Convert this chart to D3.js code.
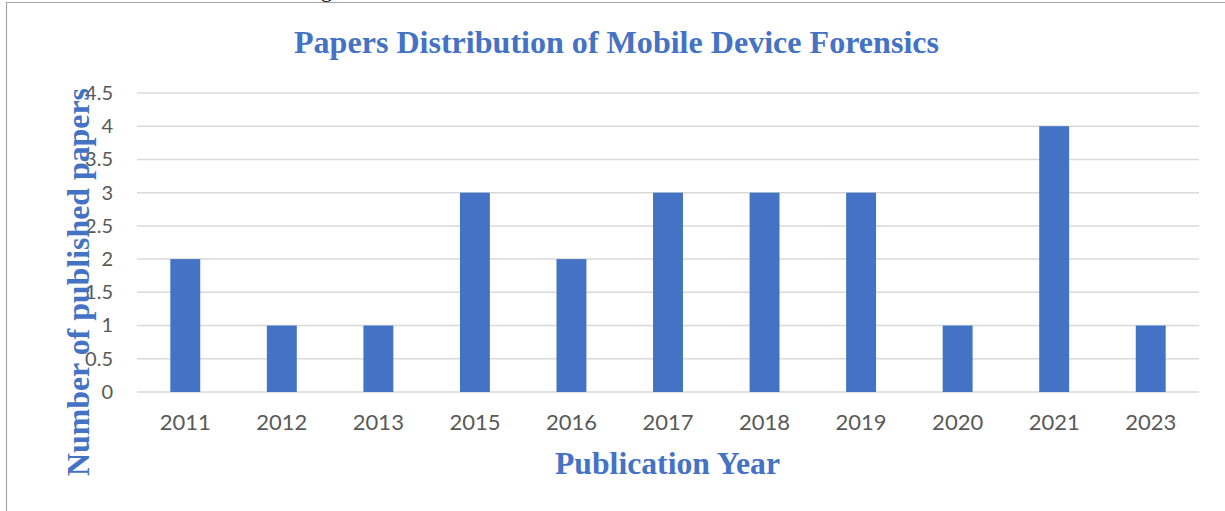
<!DOCTYPE html>
<html>
<head>
<meta charset="utf-8">
<script src="https://cdn.jsdelivr.net/npm/d3@7"></script>
<style>
  body { margin: 0; background: #fff; }
  svg { display: block; }
</style>
</head>
<body>
<div id="chart"><svg></svg></div>
<script>
const YEARS = ['2011', '2012', '2013', '2015', '2016', '2017', '2018', '2019', '2020', '2021', '2023'];
const PAPERS = [2, 1, 1, 3, 2, 3, 3, 3, 1, 4, 1];
const Y_TICKS = [0, 0.5, 1, 1.5, 2, 2.5, 3, 3.5, 4, 4.5];

const WIDTH = 1225;
const HEIGHT = 511;
const PLOT = { left: 137, right: 1199, top: 93, bottom: 392 };
const BLUE = '#4472C4';

const svg = d3.select('#chart').select('svg')
  .attr('width', WIDTH)
  .attr('height', HEIGHT);

// frame of the chart area (cut off page)
svg.append('line').attr('x1', 6).attr('x2', WIDTH).attr('y1', 2.5).attr('y2', 2.5)
  .attr('stroke', '#a6a6a6').attr('stroke-width', 1.2);
svg.append('line').attr('x1', 6.5).attr('x2', 6.5).attr('y1', 2).attr('y2', HEIGHT)
  .attr('stroke', '#a6a6a6').attr('stroke-width', 1.2);

// fragment of the page text above the chart
svg.append('text').attr('x', 321).attr('y', -3)
  .attr('font-family', 'Liberation Serif').attr('font-size', 22).attr('fill', '#000')
  .text('g');

const xScale = d3.scaleBand()
  .domain(YEARS)
  .range([PLOT.left, PLOT.right])
  .paddingInner(0.69)
  .paddingOuter(0.345);

const yScale = d3.scaleLinear()
  .domain([0, 4.5])
  .range([PLOT.bottom, PLOT.top]);

// gridlines
svg.append('g')
  .selectAll('line')
  .data(Y_TICKS)
  .enter()
  .append('line')
  .attr('x1', PLOT.left)
  .attr('x2', PLOT.right)
  .attr('y1', d => yScale(d))
  .attr('y2', d => yScale(d))
  .attr('stroke', '#d9d9d9')
  .attr('stroke-width', 1.5);

// y tick labels
const yAxis = svg.append('g')
  .attr('transform', `translate(${PLOT.left}, 0)`)
  .call(d3.axisLeft(yScale).tickValues(Y_TICKS).tickSize(0).tickPadding(24).tickFormat(d3.format('')));
yAxis.select('.domain').remove();
yAxis.selectAll('text')
  .attr('font-family', 'Lato, "Open Sans", sans-serif')
  .attr('font-size', 20)
  .attr('fill', '#595959');

// bars
svg.append('g')
  .selectAll('.bar')
  .data(YEARS.map((y, i) => ({ year: y, value: PAPERS[i] })))
  .enter()
  .append('rect')
  .classed('bar', true)
  .attr('x', d => xScale(d.year))
  .attr('width', xScale.bandwidth())
  .attr('y', d => yScale(d.value))
  .attr('height', d => PLOT.bottom - yScale(d.value))
  .attr('fill', BLUE);

// x axis
const xAxis = svg.append('g')
  .attr('transform', `translate(0, ${PLOT.bottom})`)
  .call(d3.axisBottom(xScale).tickSize(0).tickPadding(22));
xAxis.select('.domain').remove();
xAxis.selectAll('text')
  .attr('font-family', 'Lato, "Open Sans", sans-serif')
  .attr('font-size', 22)
  .attr('fill', '#595959');

// title
svg.append('text')
  .attr('x', 294)
  .attr('y', 53)
  .attr('textLength', 645)
  .attr('lengthAdjust', 'spacingAndGlyphs')
  .attr('font-family', '"Liberation Serif", "Times New Roman", serif')
  .attr('font-weight', 'bold')
  .attr('font-size', 31)
  .attr('fill', BLUE)
  .text('Papers Distribution of Mobile Device Forensics');

// x axis title
svg.append('text')
  .attr('x', 555)
  .attr('y', 474)
  .attr('textLength', 225)
  .attr('lengthAdjust', 'spacingAndGlyphs')
  .attr('font-family', '"Liberation Serif", "Times New Roman", serif')
  .attr('font-weight', 'bold')
  .attr('font-size', 31)
  .attr('fill', BLUE)
  .text('Publication Year');

// y axis title
svg.append('text')
  .attr('transform', 'translate(89, 476) rotate(-90)')
  .attr('x', 0)
  .attr('y', 0)
  .attr('textLength', 388)
  .attr('lengthAdjust', 'spacingAndGlyphs')
  .attr('font-family', '"Liberation Serif", "Times New Roman", serif')
  .attr('font-weight', 'bold')
  .attr('font-size', 31)
  .attr('fill', BLUE)
  .text('Number of published papers');
</script>
</body>
</html>
